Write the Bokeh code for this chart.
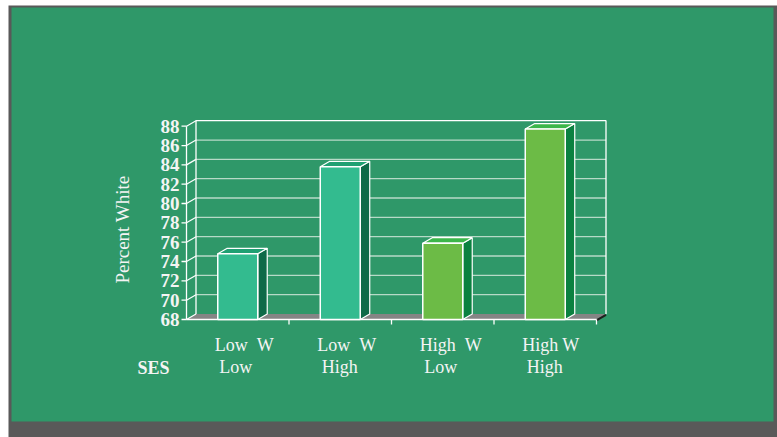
from bokeh.plotting import figure
from bokeh.models import Range1d
from bokeh.core.properties import value
from bokeh.embed import file_html
from bokeh.resources import INLINE

# ---- data ----
groups = ["Low W / Low SES", "Low W / High SES", "High W / Low SES", "High W / High SES"]
percent_white = [74.8, 83.8, 75.9, 87.7]
label_line1 = ["Low \u00a0W", "Low \u00a0W", "High \u00a0W", "High W"]
label_line2 = ["Low", "High", "Low", "High"]
y_ticks = [68, 70, 72, 74, 76, 78, 80, 82, 84, 86, 88]
y_tick_labels = [str(t) for t in y_ticks]

# ---- styling ----
W, H = 777, 437
BG_GREEN = "#2F9869"
FRAME_GREY = "#595959"
FLOOR_GREY = "#858585"
TXT = "#F4F4F4"
GRID = "#CFE5D8"
FRONT = ["#33BB8F", "#33BB8F", "#6CBB46", "#6CBB46"]
SIDE = ["#0E6A48", "#0E6A48", "#0B8140", "#0B8140"]
TOP = ["#1FA072", "#1FA072", "#3CB64A", "#3CB64A"]
SERIF = value("Liberation Serif")

# screen geometry of the plotting box
X0, Y0 = 186.0, 319.0          # front-left corner (category edge 0, value 68)
KX = 102.5                     # pixels per category
KY = 193.3 / 20.0              # pixels per percentage point
YMIN = y_ticks[0]
DX = 9.5 / KX                  # 3-D depth offset in data units
DY = 5.5 / KY
HALF = 0.195                   # half bar width in categories


def dx(px):
    return (px - X0) / KX


def dy(py):
    return YMIN + (Y0 - py) / KY


p = figure(width=W, height=H, output_backend="svg", toolbar_location=None,
           x_range=Range1d(dx(0), dx(W)), y_range=Range1d(dy(H), dy(0)),
           x_axis_type=None, y_axis_type=None,
           min_border=0, min_border_left=0, min_border_right=0,
           min_border_top=0, min_border_bottom=0)
p.grid.visible = False
p.outline_line_color = None
p.background_fill_color = "white"
p.border_fill_color = "white"

# slide frame: dark grey border with green panel
p.quad(left=[dx(8)], right=[dx(W)], top=[dy(5)], bottom=[dy(H)],
       fill_color=FRAME_GREY, line_color=None)
p.quad(left=[dx(11)], right=[dx(773)], top=[dy(7)], bottom=[dy(421)],
       fill_color=BG_GREEN, line_color=None)

n = len(groups)
ytop = y_ticks[-1]

# floor
p.patch([0, n, n + DX, DX], [YMIN, YMIN, YMIN + DY, YMIN + DY],
        fill_color=FLOOR_GREY, line_color=None)
p.line([n, n + DX], [YMIN - 0.08, YMIN + DY - 0.08], line_color="#1E1E1E", line_width=2)

# back-wall gridlines
for t in y_ticks[1:-1]:
    p.line([DX, n + DX], [t + DY, t + DY], line_color=GRID, line_width=1.3, line_alpha=0.85)

# back wall outline
p.line([DX, DX, n + DX, n + DX], [YMIN + DY, ytop + DY, ytop + DY, YMIN + DY],
       line_color="white", line_width=1.3)

# side wall: diagonal lines from each tick to the back wall
for t in y_ticks:
    p.line([0, DX], [t, t + DY], line_color="white", line_width=1.2)

# value axis with outward ticks
p.line([0, 0], [YMIN, ytop], line_color="white", line_width=1.3)
p.segment(x0=[dx(181)] * len(y_ticks), y0=y_ticks, x1=[0] * len(y_ticks), y1=y_ticks,
          line_color="white", line_width=1.3)
p.text(x=[dx(179)] * len(y_ticks), y=y_ticks, text=y_tick_labels,
       text_font=SERIF, text_font_style="bold", text_font_size="19px",
       text_color=TXT, text_align="right", text_baseline="middle")

# category axis along the floor front edge
p.line([0, n], [YMIN, YMIN], line_color="white", line_width=1.3)
cat_edges = list(range(1, n + 1))
p.segment(x0=cat_edges, y0=[YMIN] * n, x1=cat_edges, y1=[dy(Y0 + 5)] * n,
          line_color="white", line_width=1.3)

# 3-D columns
centers = [i + 0.5 for i in range(n)]
for c, v, fc, sc, tc in zip(centers, percent_white, FRONT, SIDE, TOP):
    l, r = c - HALF, c + HALF
    p.patch([r, r + DX, r + DX, r], [YMIN, YMIN + DY, v + DY, v],
            fill_color=sc, line_color="white", line_width=1.2)
    p.patch([l, l + DX, r + DX, r], [v, v + DY, v + DY, v],
            fill_color=tc, line_color="white", line_width=1.2)
    p.quad(left=[l], right=[r], bottom=[YMIN], top=[v],
           fill_color=fc, line_color="white", line_width=1.5)

# category labels (two lines each)
p.text(x=[c - 0.225 for c in centers], y=[dy(344.5)] * n, text=label_line1,
       text_font=SERIF, text_font_size="18px", text_color=TXT,
       text_align="left", text_baseline="alphabetic")
p.text(x=[c - 0.18 for c in centers], y=[dy(366.5)] * n, text=label_line2,
       text_font=SERIF, text_font_size="18px", text_color=TXT,
       text_align="left", text_baseline="alphabetic")

p.text(x=[dx(137)], y=[dy(367.5)], text=["SES"], text_font=SERIF,
       text_font_style="bold", text_font_size="18px", text_color=TXT,
       text_align="left", text_baseline="alphabetic")

# value axis title
p.text(x=[dx(122)], y=[dy(229)], text=["Percent White"], angle=1.5707963,
       text_font=SERIF, text_font_size="19px", text_color=TXT,
       text_align="center", text_baseline="middle")

open("out.html", "w").write(file_html(p, INLINE))
